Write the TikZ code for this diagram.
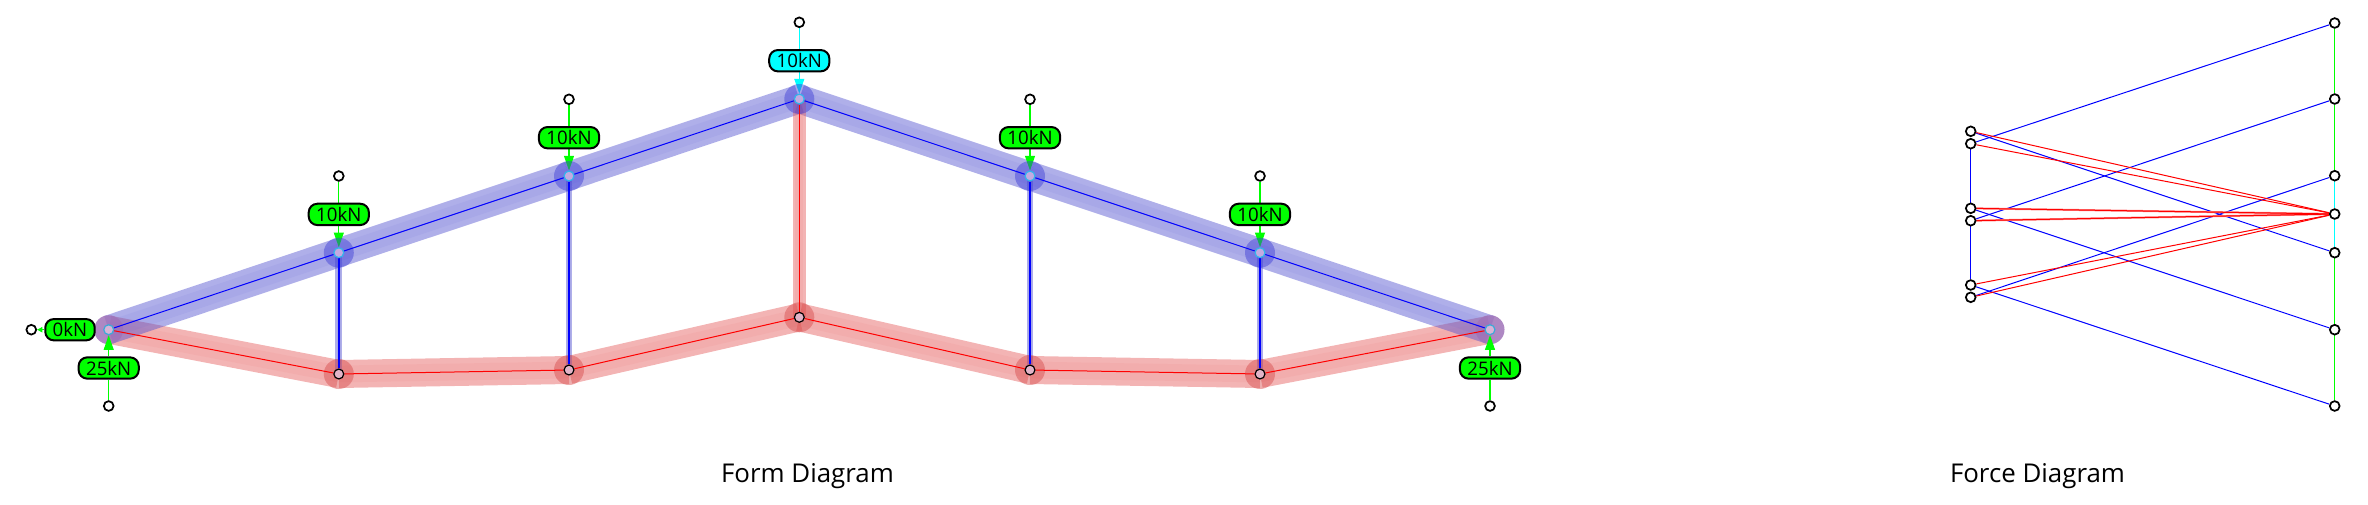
\documentclass[tikz,border=0pt]{standalone}
\usepackage{fontspec}
\setsansfont{Open Sans}
\usetikzlibrary{arrows.meta,backgrounds}
\definecolor{chordblue}{RGB}{85,85,209}
\definecolor{chordred}{RGB}{230,95,95}
\definecolor{discblue}{RGB}{60,60,215}
\definecolor{discred}{RGB}{215,75,75}
\definecolor{discend}{RGB}{160,115,185}
\definecolor{loadgreen}{RGB}{0,255,0}
\definecolor{loadcyan}{RGB}{0,255,255}
\definecolor{rimcyan}{RGB}{50,180,235}
\definecolor{rimend}{RGB}{60,170,215}
\definecolor{topfill}{RGB}{195,170,225}
\definecolor{endfill}{RGB}{215,180,215}
\definecolor{lowfill}{RGB}{225,180,200}
\tikzset{
  joint/.style={circle,draw=#1,line width=.9pt,minimum size=7.4pt,inner sep=0pt},
  topjoint/.style={joint=rimcyan,fill=topfill},
  endjoint/.style={joint=rimend,fill=endfill},
  lowjoint/.style={joint=black,fill=lowfill},
  freept/.style={circle,draw=black,fill=white,line width=1.3pt,minimum size=7.3pt,inner sep=0pt},
  pill/.style={draw=black,fill=#1,line width=1.5pt,rounded corners=6.5pt,minimum height=16pt,
    inner xsep=5.6pt,inner ysep=0pt,font=\sffamily\fontsize{14}{14}\selectfont},
  title/.style={anchor=base,inner sep=0pt,font=\sffamily\fontsize{19.4}{19.4}\selectfont},
  bandblue/.style={draw=chordblue,draw opacity=.47,line width=#1,
    postaction={draw=chordblue,draw opacity=.08,line width=.6*#1}},
  bandred/.style={draw=chordred,draw opacity=.47,line width=#1,
    postaction={draw=chordred,draw opacity=.08,line width=.6*#1}},
  loadline/.style={draw=#1,line width=.8pt},
  loadarrow/.style={draw=#1,line width=.8pt,-{Triangle[length=11pt,width=7.5pt,fill=#1]}},
  thin/.style={draw=#1,line width=.75pt},
}
\begin{document}
\begin{tikzpicture}[x=.75pt,y=-.75pt]
\useasboundingbox (0,0) rectangle (2368,504);
% form diagram joints
\node[endjoint] (t1) at (108.7,329.7) {};
\node[endjoint] (t7) at (1490,329.7) {};
\foreach \id/\x/\y in {t2/338.8/252.7,t3/569/176,t4/799.3/99,t5/1030/176,t6/1260/252.7}
  \node[topjoint] (\id) at (\x,\y) {};
\foreach \id/\x/\y in {b2/338.8/374,b3/569/370,b4/799.3/317.3,b5/1030/370,b6/1260/374}
  \node[lowjoint] (\id) at (\x,\y) {};
% loads on the top chord
\foreach \id/\x/\y/\col in {2/338.8/252.7/loadgreen,3/569/176/loadgreen,4/799.3/99/loadcyan,5/1030/176/loadgreen,6/1260/252.7/loadgreen}{
  \node[pill=\col] (lab\id) at (\x,\y-38.3) {10kN};
  \node[freept] (load\id) at (\x,\y-76.7) {};
}
\node[pill=loadgreen] (lab0) at (70,329.7) {0kN};
\node[freept] (load0) at (31.3,329.7) {};
\node[pill=loadgreen] (lab1) at (108.7,368) {25kN};
\node[freept] (load1) at (108.7,406) {};
\node[pill=loadgreen] (lab7) at (1490,368) {25kN};
\node[freept] (load7) at (1490,406) {};
% force diagram
\foreach \id/\y in {1/131.3,2/143.7,3/208.3,4/220.7,5/285,6/297.3}
  \node[freept] (fl\id) at (1970.7,\y) {};
\foreach \id/\y in {1/23,2/99,3/175.7,4/214,5/252.7,6/329.7,7/406}
  \node[freept] (fr\id) at (2334.7,\y) {};
\node[title] (formtitle) at (807.5,482.8) {Form Diagram};
\node[title] (forcetitle) at (2037.5,482.8) {Force Diagram};
\begin{scope}[on background layer]
% member bands
\foreach \a/\b in {t1/b2,b2/b3,b3/b4,b4/b5,b5/b6,b6/t7}
  \draw[bandred=21pt] (\a.center) -- (\b.center);
\foreach \a/\b in {t1/t2,t2/t3,t3/t4,t4/t5,t5/t6,t6/t7}
  \draw[bandblue=21.6pt] (\a.center) -- (\b.center);
\foreach \a/\b in {t2/b2,t3/b3,t5/b5,t6/b6}
  \draw[bandblue=5.2pt] (\a.center) -- (\b.center);
\draw[bandred=10pt] (t4.center) -- (b4.center);
% arrows go under the discs
\foreach \id/\col in {2/loadgreen,3/loadgreen,4/loadcyan,5/loadgreen,6/loadgreen}{
  \draw[loadline=\col] (load\id) -- (lab\id);
  \draw[loadarrow=\col] (lab\id) -- (t\id);
}
\draw[loadline=loadgreen] (load1) -- (lab1);
\draw[loadline=loadgreen] (load7) -- (lab7);
\draw[loadline=loadgreen,-{Triangle[length=4pt,width=4pt,fill=loadgreen]}] (lab0) -- (load0);
% discs at the joints
\foreach \id in {t2,t3,t4,t5,t6}
  \fill[discblue,fill opacity=.45] (\id.center) circle[radius=15];
\foreach \id in {b2,b3,b4,b5,b6}
  \fill[discred,fill opacity=.45] (\id.center) circle[radius=15];
\foreach \id in {t1,t7}
  \fill[discend,fill opacity=.85] (\id.center) circle[radius=14.5];
\draw[loadarrow=loadgreen] (lab1) -- (t1);
\draw[loadarrow=loadgreen] (lab7) -- (t7);
% centre lines
\foreach \a/\b in {t1/t2,t2/t3,t3/t4,t4/t5,t5/t6,t6/t7}
  \draw[thin=blue] (\a) -- (\b);
\foreach \a/\b in {t1/b2,b2/b3,b3/b4,b4/b5,b5/b6,b6/t7}
  \draw[thin=red] (\a) -- (\b);
\foreach \a/\b in {t2/b2,t3/b3,t5/b5,t6/b6}
  \draw[thin=blue,line width=1.4pt] (\a) -- (\b);
\draw[thin=red,line width=1pt] (t4) -- (b4);
% force diagram lines
\foreach \a/\b in {fl2/fr1,fl4/fr2,fl6/fr3,fl1/fr5,fl3/fr6,fl5/fr7,fl2/fl3,fl4/fl5}
  \draw[thin=blue] (\a) -- (\b);
\foreach \a in {fl3,fl4}
  \draw[thin=red!50,line width=1.5pt] (\a) -- (fr4);
\foreach \a in {fl1,fl2,fl3,fl4,fl5,fl6}
  \draw[thin=red] (\a) -- (fr4);
\foreach \a/\b in {fr1/fr2,fr2/fr3,fr5/fr6,fr6/fr7}
  \draw[thin=loadgreen,line width=1pt] (\a) -- (\b);
\foreach \a/\b in {fr3/fr4,fr4/fr5}
  \draw[thin=loadcyan,line width=1pt] (\a) -- (\b);
\end{scope}
\end{tikzpicture}
\end{document}
